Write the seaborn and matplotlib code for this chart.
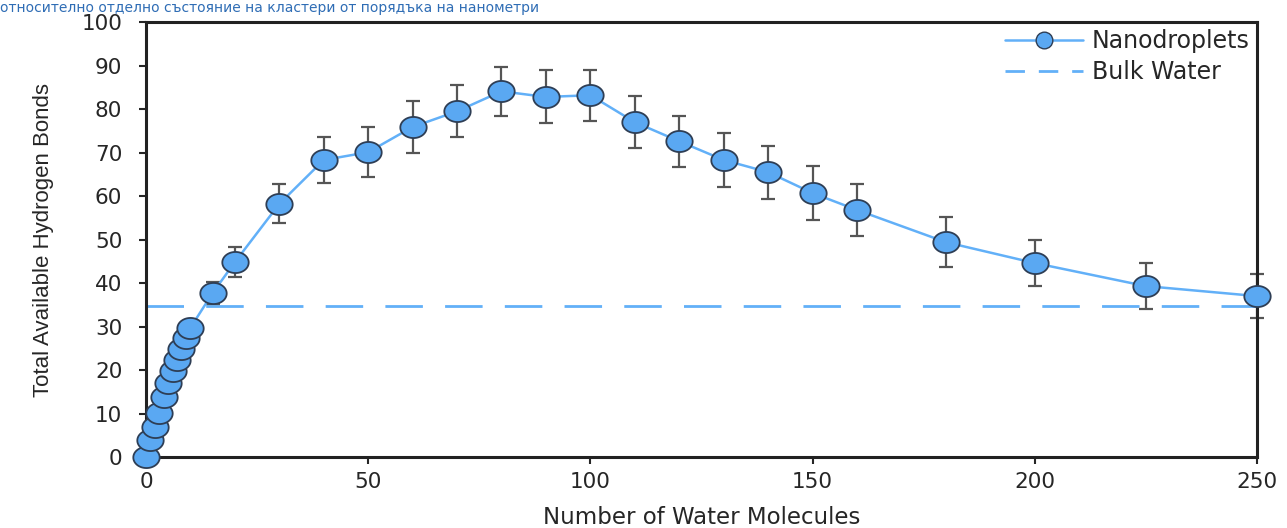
import numpy as np
import pandas as pd
import seaborn as sns
from matplotlib import pyplot as plt
from matplotlib.path import Path
from matplotlib.lines import Line2D

molecules = [0, 1, 2, 3, 4, 5, 6, 7, 8, 9, 10, 15, 20, 30, 40, 50, 60, 70, 80, 90,
             100, 110, 120, 130, 140, 150, 160, 180, 200, 225, 250]
hbonds = [0.0, 3.9, 6.9, 10.1, 13.8, 17.0, 19.8, 22.3, 24.8, 27.4, 29.7, 37.7, 44.8, 58.2,
          68.3, 70.1, 75.9, 79.5, 84.1, 82.8, 83.2, 77.0, 72.6, 68.3, 65.5, 60.7, 56.8,
          49.4, 44.6, 39.3, 37.0]
errors = [0, 0, 0, 0, 0, 0, 0, 0, 0, 0, 1.0, 2.6, 3.5, 4.5, 5.2, 5.7, 6.0, 6.0, 5.6, 6.1,
          5.9, 6.0, 5.9, 6.3, 6.1, 6.3, 6.0, 5.8, 5.3, 5.3, 5.0]
bulk_water = 34.7
x_ticks = [0, 50, 100, 150, 200, 250]
y_ticks = [0, 10, 20, 30, 40, 50, 60, 70, 80, 90, 100]

df = pd.DataFrame({"molecules": molecules, "hbonds": hbonds, "err": errors})

sns.set_style("ticks")
plt.rcParams["font.family"] = ["DejaVu Sans"]

blue = "#62b0f8"
face = "#5aa8f2"
edge = "#2e3e55"

# slightly flattened circle, like the stretched original
t = np.linspace(0, 2 * np.pi, 60)
ellipse = Path(np.column_stack([np.cos(t), 0.8 * np.sin(t)]), closed=True)

fig = plt.figure(figsize=(12.87, 5.28), dpi=100)
ax = fig.add_axes([0.1134, 0.1345, 0.8633, 0.8235])

ax.axhline(bulk_water, color=blue, lw=2, dashes=(13.5, 8), zorder=1)
ax.errorbar(df.molecules, df.hbonds, yerr=df.err, fmt="none", ecolor="#555555",
            elinewidth=1.6, capsize=5, capthick=1.6, zorder=2, clip_on=False)
sns.lineplot(data=df, x="molecules", y="hbonds", ax=ax, color=blue, lw=1.8,
             marker=ellipse, markersize=19, markerfacecolor=face,
             markeredgecolor=edge, markeredgewidth=1.3, zorder=3, clip_on=False)

ax.set_xlim(0, 250)
ax.set_ylim(0, 100)
ax.set_xticks(x_ticks)
ax.set_yticks(y_ticks)
ax.tick_params(labelsize=15.5, width=1.5, length=5, direction="out")
ax.tick_params(axis="y", pad=12)
ax.tick_params(axis="x", pad=6)
for s in ax.spines.values():
    s.set_linewidth(2.2)
    s.set_color("#222222")

ax.set_xlabel("Number of Water Molecules", fontsize=16.5, labelpad=10)
ax.set_ylabel("Total Available Hydrogen Bonds", fontsize=16, labelpad=20,
              family=["Liberation Sans Narrow", "DejaVu Sans Condensed", "Liberation Sans"])

handles = [
    Line2D([], [], color=blue, lw=1.8, marker="o", markersize=12,
           markerfacecolor=face, markeredgecolor=edge),
    Line2D([], [], color=blue, lw=2, dashes=(7, 5)),
]
ax.legend(handles, ["Nanodroplets", "Bulk Water"], loc="upper right", frameon=False,
          fontsize=17, handlelength=3.3, handletextpad=0.4, borderaxespad=0.0,
          borderpad=0.3, labelspacing=0.3)

# caption line cut off at the top of the original image
fig.text(0.0, 0.998, "относително отделно състояние на кластери от порядъка на нанометри",
         color="#2f6db5", fontsize=10, va="top", ha="left")

plt.savefig("out.png", dpi=100)
